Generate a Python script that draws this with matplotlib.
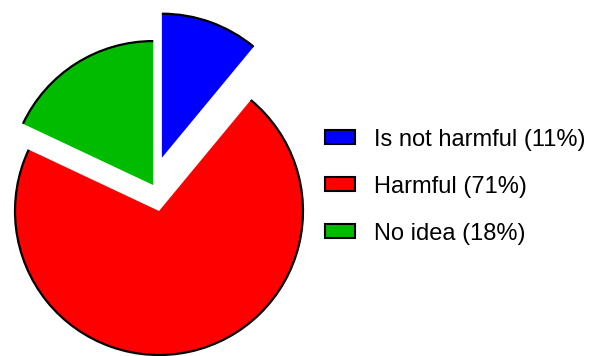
import numpy as np
import matplotlib.pyplot as plt
from matplotlib.patches import Arc, Patch

plt.rcParams['font.family'] = ['Liberation Sans', 'DejaVu Sans']

labels = ['Is not harmful (11%)', 'Harmful (71%)', 'No idea (18%)']
shares = [11, 71, 18]
colors = ['#0000ff', '#ff0000', '#00bb00']
# how far each slice is pulled out of the pie (radius units)
shift = [(0.02, 0.37), (0.0, 0.0), (-0.04, 0.18)]

fig = plt.figure(figsize=(5.89, 3.56), dpi=100)
ax = fig.add_axes([0, 0, 1, 1])

wedges, _ = ax.pie(shares, colors=colors, startangle=90, counterclock=False,
                   radius=1.0, wedgeprops=dict(edgecolor='none', linewidth=0))

# move the slices apart and outline only the outer arcs
for w, (dx, dy) in zip(wedges, shift):
    cx, cy = w.center
    w.set_center((cx + dx, cy + dy))
    arc = Arc((cx + dx, cy + dy), 2 * w.r, 2 * w.r, theta1=w.theta1,
              theta2=w.theta2, color='black', lw=1.6, zorder=3)
    ax.add_patch(arc)

# 1 data unit = 144 px, pie centre at (159, 211) px
ax.set_xlim(-159 / 144, (589 - 159) / 144)
ax.set_ylim(-(356 - 211) / 144, 211 / 144)
ax.set_aspect('auto')
ax.axis('off')

handles = [Patch(facecolor=c, edgecolor='black', linewidth=1.5) for c in colors]
fig.legend(handles, labels, loc='center left', bbox_to_anchor=(0.551, 0.476),
           bbox_transform=fig.transFigure, frameon=False, fontsize=17,
           handlelength=1.3, handleheight=0.55, handletextpad=0.78,
           labelspacing=1.06, borderpad=0, borderaxespad=0)

fig.savefig('out.png', dpi=100)
